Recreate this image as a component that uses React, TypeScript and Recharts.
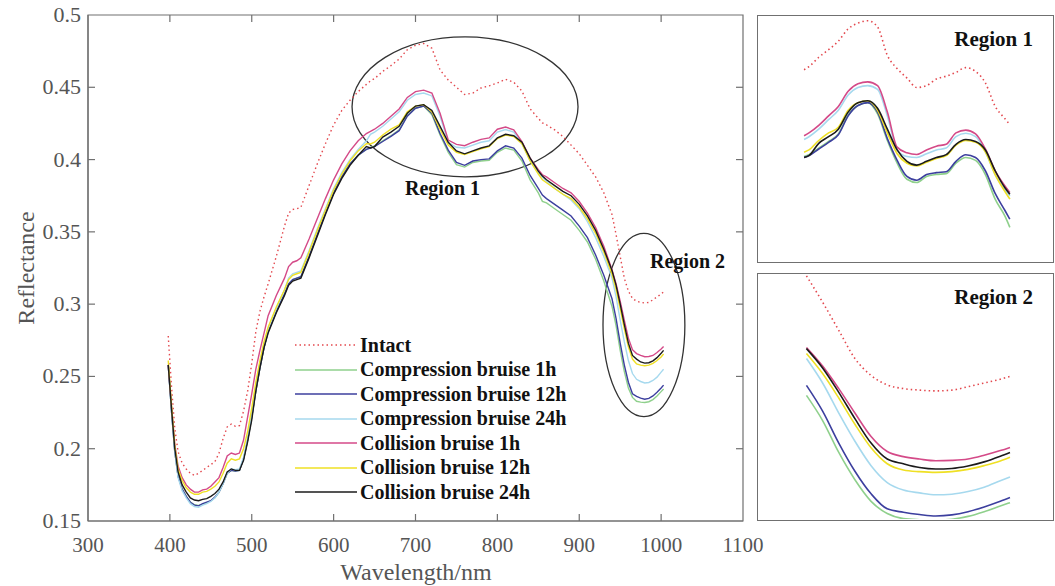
import { LineChart, Line, XAxis, YAxis, ReferenceArea, Legend } from "recharts";

// wavelength (nm) sampled along the spectra
const wavelengths = [
  398, 402, 406, 410, 415, 420, 425, 430, 435, 440, 445, 450, 455, 460, 465, 470, 475, 480, 485, 490,
  495, 500, 505, 510, 515, 520, 530, 540, 545, 550, 555, 560, 570, 580, 590, 600, 610, 620, 630, 640,
  645, 650, 660, 670, 680, 690, 700, 710, 720, 730, 740, 750, 760, 770, 780, 790, 800, 810, 820, 830,
  840, 850, 855, 860, 870, 880, 890, 900, 910, 920, 930, 940, 945, 950, 955, 960, 965, 970, 975, 980,
  985, 990, 995, 1000, 1003,
];

const intact = [
  0.278, 0.243, 0.214, 0.198, 0.19, 0.186, 0.183, 0.1815, 0.183, 0.185, 0.187, 0.189, 0.191, 0.197, 0.207, 0.215, 0.217, 0.2155, 0.216, 0.226,
  0.24, 0.259, 0.281, 0.295, 0.305, 0.314, 0.333, 0.354, 0.363, 0.3655, 0.366, 0.367, 0.382, 0.397, 0.411, 0.424, 0.434, 0.441, 0.447, 0.452,
  0.4544, 0.456, 0.461, 0.465, 0.4695, 0.476, 0.479, 0.4803, 0.477, 0.462, 0.455, 0.45, 0.445, 0.446, 0.4495, 0.451, 0.453, 0.4555, 0.4535, 0.4474,
  0.4351, 0.4285, 0.4254, 0.424, 0.4205, 0.416, 0.41, 0.404, 0.396, 0.388, 0.377, 0.362, 0.348, 0.333, 0.318, 0.309, 0.304, 0.302, 0.3012, 0.3008,
  0.3012, 0.303, 0.305, 0.307, 0.3085,
];

const compression1h = [
  0.258, 0.226, 0.198, 0.181, 0.172, 0.167, 0.163, 0.1612, 0.1608, 0.1615, 0.1625, 0.164, 0.166, 0.17, 0.176, 0.183, 0.185, 0.1845, 0.185, 0.193,
  0.206, 0.222, 0.24, 0.256, 0.27, 0.281, 0.295, 0.307, 0.314, 0.317, 0.318, 0.319, 0.333, 0.348, 0.363, 0.377, 0.388, 0.397, 0.403, 0.407,
  0.4085, 0.4095, 0.413, 0.4165, 0.4205, 0.4305, 0.4355, 0.437, 0.431, 0.417, 0.405, 0.3965, 0.3948, 0.398, 0.399, 0.3995, 0.405, 0.408, 0.4065, 0.399,
  0.386, 0.377, 0.3711, 0.37, 0.366, 0.362, 0.358, 0.351, 0.343, 0.331, 0.316, 0.2984, 0.285, 0.268, 0.2535, 0.242, 0.2355, 0.2328, 0.2322, 0.232,
  0.2325, 0.234, 0.2365, 0.2395, 0.2413,
];

const compression12h = [
  0.258, 0.226, 0.198, 0.181, 0.172, 0.167, 0.163, 0.161, 0.1605, 0.162, 0.163, 0.164, 0.1665, 0.17, 0.176, 0.183, 0.185, 0.1845, 0.185, 0.193,
  0.206, 0.222, 0.24, 0.256, 0.27, 0.281, 0.295, 0.307, 0.314, 0.317, 0.318, 0.319, 0.333, 0.348, 0.363, 0.377, 0.388, 0.397, 0.403, 0.407,
  0.408, 0.409, 0.4125, 0.416, 0.42, 0.43, 0.4355, 0.437, 0.432, 0.418, 0.4065, 0.398, 0.396, 0.399, 0.4, 0.4005, 0.406, 0.4095, 0.408, 0.401,
  0.389, 0.38, 0.3754, 0.373, 0.369, 0.365, 0.361, 0.354, 0.346, 0.334, 0.32, 0.3037, 0.29, 0.273, 0.258, 0.246, 0.238, 0.2362, 0.235, 0.2342,
  0.2348, 0.2365, 0.239, 0.242, 0.244,
];

const compression24h = [
  0.258, 0.226, 0.198, 0.18, 0.171, 0.166, 0.162, 0.16, 0.1595, 0.161, 0.162, 0.1635, 0.166, 0.17, 0.176, 0.183, 0.186, 0.1855, 0.186, 0.194,
  0.207, 0.223, 0.242, 0.258, 0.272, 0.283, 0.297, 0.31, 0.318, 0.321, 0.322, 0.323, 0.337, 0.352, 0.366, 0.38, 0.391, 0.4, 0.407, 0.413,
  0.4175, 0.419, 0.423, 0.428, 0.433, 0.441, 0.445, 0.446, 0.444, 0.43, 0.412, 0.4085, 0.408, 0.41, 0.412, 0.413, 0.419, 0.4208, 0.419, 0.411,
  0.399, 0.391, 0.3877, 0.385, 0.38, 0.376, 0.372, 0.366, 0.357, 0.346, 0.333, 0.318, 0.305, 0.289, 0.274, 0.261, 0.252, 0.248, 0.2465, 0.2455,
  0.2458, 0.2472, 0.2495, 0.253, 0.255,
];

const collision1h = [
  0.258, 0.229, 0.203, 0.188, 0.18, 0.175, 0.172, 0.17, 0.17, 0.1715, 0.172, 0.174, 0.177, 0.18, 0.187, 0.195, 0.197, 0.196, 0.197, 0.206,
  0.222, 0.238, 0.255, 0.268, 0.28, 0.292, 0.306, 0.318, 0.326, 0.329, 0.33, 0.332, 0.345, 0.359, 0.373, 0.386, 0.397, 0.406, 0.413, 0.418,
  0.4195, 0.421, 0.425, 0.43, 0.435, 0.443, 0.447, 0.448, 0.446, 0.432, 0.4135, 0.4105, 0.4096, 0.412, 0.414, 0.415, 0.421, 0.4225, 0.4205, 0.4125,
  0.401, 0.393, 0.3895, 0.388, 0.384, 0.38, 0.377, 0.371, 0.363, 0.353, 0.34, 0.3239, 0.314, 0.302, 0.289, 0.2765, 0.2685, 0.2658, 0.2645, 0.2636,
  0.2638, 0.2645, 0.2665, 0.269, 0.2707,
];

const collision12h = [
  0.261, 0.23, 0.202, 0.186, 0.178, 0.173, 0.17, 0.1685, 0.1685, 0.17, 0.1705, 0.172, 0.174, 0.177, 0.183, 0.19, 0.193, 0.192, 0.193, 0.2,
  0.212, 0.228, 0.246, 0.261, 0.274, 0.284, 0.298, 0.31, 0.317, 0.32, 0.321, 0.322, 0.336, 0.351, 0.365, 0.379, 0.39, 0.399, 0.406, 0.411,
  0.4108, 0.412, 0.417, 0.421, 0.424, 0.433, 0.437, 0.438, 0.433, 0.421, 0.41, 0.405, 0.4035, 0.4055, 0.4075, 0.409, 0.4145, 0.417, 0.416, 0.411,
  0.399, 0.39, 0.386, 0.384, 0.38, 0.376, 0.373, 0.367, 0.359, 0.349, 0.336, 0.3207, 0.31, 0.297, 0.283, 0.2705, 0.262, 0.2587, 0.2578, 0.2574,
  0.2578, 0.259, 0.261, 0.2635, 0.2655,
];

const collision24h = [
  0.258, 0.228, 0.2, 0.184, 0.175, 0.17, 0.166, 0.1645, 0.164, 0.165, 0.1655, 0.167, 0.169, 0.172, 0.177, 0.184, 0.186, 0.185, 0.185, 0.192,
  0.205, 0.22, 0.24, 0.256, 0.27, 0.28, 0.294, 0.306, 0.313, 0.316, 0.317, 0.318, 0.332, 0.347, 0.362, 0.376, 0.387, 0.396, 0.403, 0.409,
  0.408, 0.409, 0.4155, 0.419, 0.423, 0.432, 0.437, 0.438, 0.434, 0.423, 0.412, 0.406, 0.404, 0.406, 0.408, 0.4095, 0.415, 0.4175, 0.4165, 0.412,
  0.401, 0.392, 0.3886, 0.386, 0.382, 0.378, 0.375, 0.369, 0.361, 0.351, 0.338, 0.3233, 0.313, 0.3, 0.286, 0.273, 0.2645, 0.262, 0.26, 0.2592,
  0.2595, 0.2608, 0.263, 0.266, 0.268,
];

const xTicks = [300, 400, 500, 600, 700, 800, 900, 1000, 1100];
const yTicks = [0.15, 0.2, 0.25, 0.3, 0.35, 0.4, 0.45, 0.5];

const series = [
  { key: "intact", name: "Intact", color: "#e3484e", dash: "1.5 3" },
  { key: "c1", name: "Compression bruise 1h", color: "#8fd08c", dash: undefined },
  { key: "c12", name: "Compression bruise 12h", color: "#3c3f9e", dash: undefined },
  { key: "c24", name: "Compression bruise 24h", color: "#a6d9ee", dash: undefined },
  { key: "k1", name: "Collision bruise 1h", color: "#d44a88", dash: undefined },
  { key: "k12", name: "Collision bruise 12h", color: "#efe024", dash: undefined },
  { key: "k24", name: "Collision bruise 24h", color: "#1b1b1b", dash: undefined },
];

const data = wavelengths.map((wl, i) => ({
  wl,
  intact: intact[i],
  c1: compression1h[i],
  c12: compression12h[i],
  c24: compression24h[i],
  k1: collision1h[i],
  k12: collision12h[i],
  k24: collision24h[i],
}));

const region1 = data.filter((d) => d.wl >= 645 && d.wl <= 855);
const region2 = data.filter((d) => d.wl >= 940);

const SERIF = '"Liberation Serif", "Times New Roman", serif';
const AXIS = "#707070";
const CHART_W = 790;
const TOP = 15;
const BOTTOM = 521;
const LEFT = 88;
const RIGHT = 743;

const XTick = (props: any) => {
  const { x, y, payload } = props;
  const inner = payload.value !== 300 && payload.value !== 1100;
  return (
    <g>
      {inner && <line x1={x} x2={x} y1={BOTTOM} y2={BOTTOM - 7} stroke={AXIS} strokeWidth={1.2} />}
      {inner && <line x1={x} x2={x} y1={TOP} y2={TOP + 7} stroke={AXIS} strokeWidth={1.2} />}
      <text x={x} y={y + 31} textAnchor="middle" fontFamily={SERIF} fontSize={21} fill="#555">
        {payload.value}
      </text>
    </g>
  );
};

const YTick = (props: any) => {
  const { x, y, payload } = props;
  const inner = payload.value !== 0.15 && payload.value !== 0.5;
  return (
    <g>
      {inner && <line x1={LEFT} x2={LEFT + 7} y1={y} y2={y} stroke={AXIS} strokeWidth={1.2} />}
      {inner && <line x1={RIGHT} x2={RIGHT - 7} y1={y} y2={y} stroke={AXIS} strokeWidth={1.2} />}
      <text x={x - 7} y={y + 7} textAnchor="end" fontFamily={SERIF} fontSize={22} fill="#555">
        {payload.value}
      </text>
    </g>
  );
};

const EllipseShape = (props: any) => {
  const { x, y, width, height } = props;
  return (
    <ellipse
      cx={x + width / 2}
      cy={y + height / 2}
      rx={width / 2}
      ry={height / 2}
      fill="none"
      stroke="#333"
      strokeWidth={1.3}
    />
  );
};

const renderLegend = () => (
  <div style={{ fontFamily: SERIF, fontWeight: "bold", fontSize: 20, color: "#111" }}>
    {series.map((s) => (
      <div key={s.key} style={{ display: "flex", alignItems: "center", height: 24.5 }}>
        <svg width={62} height={10}>
          <line x1={0} x2={62} y1={5} y2={5} stroke={s.color} strokeWidth={1.6} strokeDasharray={s.dash} />
        </svg>
        <span style={{ marginLeft: 3, whiteSpace: "nowrap" }}>{s.name}</span>
      </div>
    ))}
  </div>
);

const labelStyle: any = {
  position: "absolute",
  fontFamily: SERIF,
  fontWeight: "bold",
  fontSize: 20,
  color: "#111",
  whiteSpace: "nowrap",
};

const Inset = ({ rows, xDomain, yDomain, top, title }: any) => (
  <div
    style={{
      position: "absolute",
      left: 757,
      top,
      width: 297,
      height: 248,
      border: `1.5px solid ${AXIS}`,
      boxSizing: "border-box",
      background: "#fff",
    }}
  >
    <LineChart width={294} height={245} data={rows} margin={{ top: 0, right: 0, bottom: 0, left: 0 }}>
      <XAxis dataKey="wl" type="number" domain={xDomain} allowDataOverflow hide />
      <YAxis type="number" domain={yDomain} allowDataOverflow hide />
      {series.map((s) => (
        <Line
          key={s.key}
          dataKey={s.key}
          type="monotone"
          stroke={s.color}
          strokeWidth={1.6}
          strokeDasharray={s.dash}
          dot={false}
          isAnimationActive={false}
        />
      ))}
    </LineChart>
    <div style={{ ...labelStyle, right: 20, top: 11, fontSize: 21 }}>{title}</div>
  </div>
);

export default function App() {
  return (
    <div style={{ position: "absolute", left: 0, top: 0, width: 1055, height: 586, background: "#fff" }}>
      <LineChart width={CHART_W} height={586} data={data} margin={{ top: TOP, right: CHART_W - RIGHT, bottom: 0, left: 0 }}>
        <XAxis
          dataKey="wl"
          type="number"
          domain={[300, 1100]}
          ticks={xTicks}
          height={586 - BOTTOM}
          tickSize={0}
          tickMargin={0}
          tick={<XTick />}
          stroke={AXIS}
          strokeWidth={1.2}
        />
        <YAxis
          type="number"
          domain={[0.15, 0.5]}
          ticks={yTicks}
          width={LEFT}
          tickSize={0}
          tickMargin={0}
          tick={<YTick />}
          stroke={AXIS}
          strokeWidth={1.2}
        />
        <ReferenceArea x1={300} x2={1100} y1={0.15} y2={0.5} fill="none" stroke={AXIS} strokeWidth={1.2} />
        {series.map((s) => (
          <Line
            key={s.key}
            dataKey={s.key}
            name={s.name}
            type="linear"
            stroke={s.color}
            strokeWidth={1.4}
            strokeDasharray={s.dash}
            dot={false}
            isAnimationActive={false}
          />
        ))}
        <ReferenceArea x1={622.5} x2={898.5} y1={0.3881} y2={0.4849} shape={<EllipseShape />} />
        <ReferenceArea x1={929} x2={1029} y1={0.2222} y2={0.349} shape={<EllipseShape />} />
        <Legend
          layout="vertical"
          align="center"
          verticalAlign="middle"
          content={renderLegend}
          wrapperStyle={{ left: 295, top: 333, width: 320 }}
        />
      </LineChart>

      <div style={{ ...labelStyle, left: 405, top: 177 }}>Region 1</div>
      <div style={{ ...labelStyle, left: 650, top: 250 }}>Region 2</div>

      <div
        style={{
          position: "absolute",
          left: 26,
          top: 268,
          transform: "translate(-50%, -50%) rotate(-90deg)",
          fontFamily: SERIF,
          fontSize: 24,
          color: "#555",
          whiteSpace: "nowrap",
        }}
      >
        Reflectance
      </div>
      <div
        style={{
          position: "absolute",
          left: 416,
          top: 572,
          transform: "translate(-50%, -50%)",
          fontFamily: SERIF,
          fontSize: 24,
          color: "#555",
          whiteSpace: "nowrap",
        }}
      >
        Wavelength/nm
      </div>

      <Inset rows={region1} xDomain={[598, 898]} yDomain={[0.3533, 0.4828]} top={15} title="Region 1" />
      <Inset rows={region2} xDomain={[925, 1016]} yDomain={[0.2326, 0.363]} top={273} title="Region 2" />
    </div>
  );
}
